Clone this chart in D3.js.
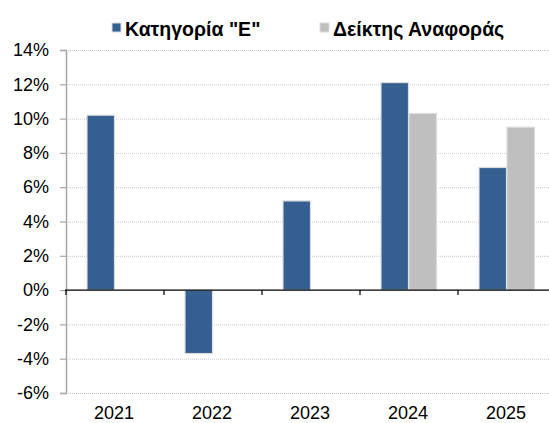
<!DOCTYPE html>
<html>
<head>
<meta charset="utf-8">
<script src="https://cdn.jsdelivr.net/npm/d3@7"></script>
<style>
  body { margin: 0; background: #fff; }
  svg { display: block; font-family: "Liberation Sans", Arial, sans-serif; }
</style>
</head>
<body>
<div id="chart"></div>
<script>
// chart data
var years = ["2021", "2022", "2023", "2024", "2025"];
var seriesNames = ['Κατηγορία "Ε"', "Δείκτης Αναφοράς"];
var categoryE = [10.2, -3.7, 5.2, 12.1, 7.15];
var benchmark = [null, null, null, 10.3, 9.5];
var yTicks = [-6, -4, -2, 0, 2, 4, 6, 8, 10, 12, 14];
var seriesColors = ["#365f91", "#bfbfbf"];

var w = 549, h = 423;
var plotLeft = 66, plotRight = 556, plotTop = 50, plotBottom = 393;

var svg = d3.select("#chart").append("svg").attr("width", w).attr("height", h);

var x = d3.scaleBand().domain(years).range([plotLeft, plotRight]);
var y = d3.scaleLinear().domain([-6, 14]).range([plotBottom, plotTop]);
var inner = d3.scaleBand().domain([0, 1]).range([0, 56]);
var groupOffset = (x.bandwidth() - 56) / 2;

// dotted gridlines
svg.append("g").selectAll("line").data(yTicks.filter(function (d) { return d != 0; })).enter()
  .append("line")
  .attr("x1", plotLeft).attr("x2", plotRight)
  .attr("y1", function (d) { return y(d) + 0.5; })
  .attr("y2", function (d) { return y(d) + 0.5; })
  .style("stroke", "#c8c8c8").style("stroke-width", 1)
  .style("stroke-dasharray", "1,1");

// bars
var rows = years.map(function (yr, i) {
  return { year: yr, vals: [categoryE[i], benchmark[i]] };
});
var groups = svg.append("g").selectAll("g").data(rows).enter().append("g")
  .attr("transform", function (d) { return "translate(" + (x(d.year) + groupOffset) + ",0)"; });

groups.selectAll("rect")
  .data(function (d) {
    return d.vals.map(function (v, k) { return { k: k, v: v }; }).filter(function (e) { return e.v !== null; });
  })
  .enter().append("rect")
  .attr("x", function (d) { return inner(d.k); })
  .attr("width", inner.bandwidth() - 0.5)
  .attr("y", function (d) { return Math.min(y(d.v), y(0)); })
  .attr("height", function (d) { return Math.abs(y(d.v) - y(0)); })
  .style("fill", function (d) { return seriesColors[d.k]; })
  .style("stroke", "#dcdcdc").style("stroke-width", 1.2);

// y axis
var yAxis = d3.axisLeft(y).tickValues(yTicks).tickSize(6).tickPadding(11)
  .tickFormat(function (d) { return d + "%"; });
var ya = svg.append("g").attr("transform", "translate(" + plotLeft + ",0)").call(yAxis);
ya.select(".domain").style("stroke", "#a6a6a6").style("stroke-width", 1.5);
ya.selectAll(".tick line").style("stroke", "#a6a6a6").style("stroke-width", 1.2);
ya.selectAll("text").style("font-size", "18px").style("fill", "#000")
  .style("font-family", "Liberation Sans, Arial, sans-serif");

// zero line with category ticks
svg.append("line")
  .attr("x1", plotLeft - 1).attr("x2", plotRight)
  .attr("y1", y(0)).attr("y2", y(0))
  .style("stroke", "#000").style("stroke-width", 1.2);
svg.append("g").selectAll("line").data(years).enter().append("line")
  .attr("x1", function (d) { return x(d); }).attr("x2", function (d) { return x(d); })
  .attr("y1", y(0)).attr("y2", y(0) + 5)
  .style("stroke", "#000").style("stroke-width", 1.2);

// category labels
svg.append("g").selectAll("text").data(years).enter().append("text")
  .attr("x", function (d) { return x(d) + x.bandwidth() / 2 - 1; })
  .attr("y", 419)
  .attr("text-anchor", "middle")
  .style("font-size", "18px").style("fill", "#000")
  .text(function (d) { return d; });

// legend
var legendPos = [112, 320];
var legend = svg.append("g").selectAll("g").data(seriesNames).enter().append("g")
  .attr("transform", function (d, i) { return "translate(" + legendPos[i] + ",23)"; });
legend.append("rect").attr("width", 9).attr("height", 9)
  .style("fill", function (d, i) { return seriesColors[i]; })
  .style("stroke", "#dcdcdc").style("stroke-width", 1);
legend.append("text").attr("x", 13).attr("y", 12.5)
  .style("font-size", "19.5px").style("font-weight", "bold").style("fill", "#000")
  .text(function (d) { return d; });
</script>
</body>
</html>
